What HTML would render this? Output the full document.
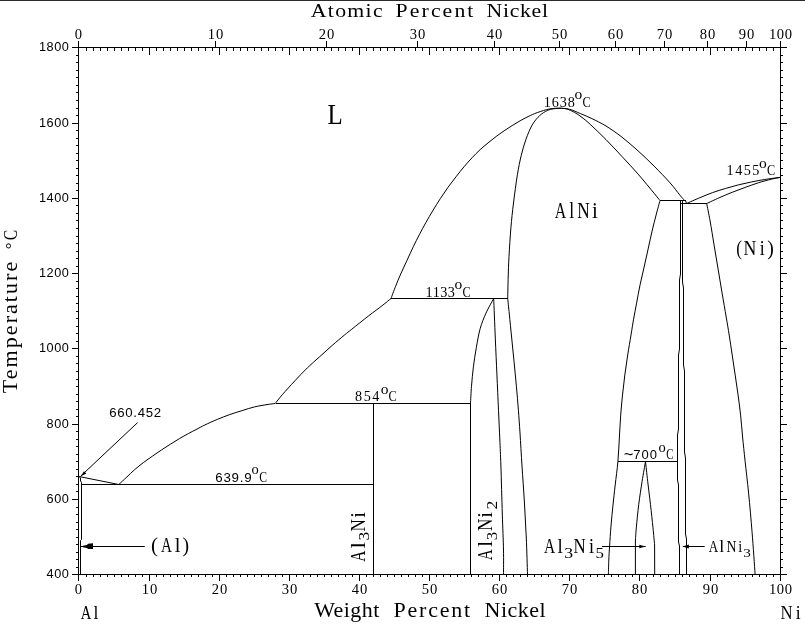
<!DOCTYPE html>
<html lang="en">
<head>
<meta charset="utf-8">
<title>Al-Ni Phase Diagram</title>
<style>
html,body{margin:0;padding:0;background:#fff;}
body{width:805px;height:624px;overflow:hidden;position:relative;}
#top{position:absolute;left:0;top:0;width:805px;height:1px;background:#2a2a2a;}
svg{position:absolute;left:0;top:0;display:block;}
.ax{fill:none;stroke:#000;stroke-width:1;shape-rendering:crispEdges;}
.cv{fill:none;stroke:#000;stroke-width:1;stroke-linejoin:round;}
.fill{fill:#000;stroke:none;}
text{fill:#000;}
.se{font-family:"Liberation Serif",serif;}
.sa{font-family:"Liberation Sans",sans-serif;}
</style>
</head>
<body>
<svg width="805" height="624" viewBox="0 0 805 624">
<path class="ax" d="M72 47.5H787M72 574.5H787M78.5 47V575M780.5 47V575M76 567.5H78M781 567.5H783M76 559.5H78M781 559.5H783M76 552.5H78M781 552.5H783M76 544.5H78M781 544.5H783M76 537.5H78M781 537.5H783M76 529.5H78M781 529.5H783M76 522.5H78M781 522.5H783M76 514.5H78M781 514.5H783M76 507.5H78M781 507.5H783M72 499.5H78M781 499.5H787M76 491.5H78M781 491.5H783M76 484.5H78M781 484.5H783M76 476.5H78M781 476.5H783M76 469.5H78M781 469.5H783M76 461.5H78M781 461.5H783M76 454.5H78M781 454.5H783M76 446.5H78M781 446.5H783M76 439.5H78M781 439.5H783M76 431.5H78M781 431.5H783M72 424.5H78M781 424.5H787M76 416.5H78M781 416.5H783M76 409.5H78M781 409.5H783M76 401.5H78M781 401.5H783M76 394.5H78M781 394.5H783M76 386.5H78M781 386.5H783M76 379.5H78M781 379.5H783M76 371.5H78M781 371.5H783M76 363.5H78M781 363.5H783M76 356.5H78M781 356.5H783M72 348.5H78M781 348.5H787M76 341.5H78M781 341.5H783M76 333.5H78M781 333.5H783M76 326.5H78M781 326.5H783M76 318.5H78M781 318.5H783M76 311.5H78M781 311.5H783M76 303.5H78M781 303.5H783M76 296.5H78M781 296.5H783M76 288.5H78M781 288.5H783M76 281.5H78M781 281.5H783M72 273.5H78M781 273.5H787M76 266.5H78M781 266.5H783M76 258.5H78M781 258.5H783M76 251.5H78M781 251.5H783M76 243.5H78M781 243.5H783M76 236.5H78M781 236.5H783M76 228.5H78M781 228.5H783M76 220.5H78M781 220.5H783M76 213.5H78M781 213.5H783M76 205.5H78M781 205.5H783M72 198.5H78M781 198.5H787M76 190.5H78M781 190.5H783M76 183.5H78M781 183.5H783M76 175.5H78M781 175.5H783M76 168.5H78M781 168.5H783M76 160.5H78M781 160.5H783M76 153.5H78M781 153.5H783M76 145.5H78M781 145.5H783M76 138.5H78M781 138.5H783M76 130.5H78M781 130.5H783M72 123.5H78M781 123.5H787M76 115.5H78M781 115.5H783M76 108.5H78M781 108.5H783M76 100.5H78M781 100.5H783M76 92.5H78M781 92.5H783M76 85.5H78M781 85.5H783M76 77.5H78M781 77.5H783M76 70.5H78M781 70.5H783M76 62.5H78M781 62.5H783M76 55.5H78M781 55.5H783M78.5 575V581M86.5 575V577M86.5 48V51M93.5 575V577M93.5 48V51M100.5 575V577M100.5 48V51M107.5 575V577M107.5 48V51M114.5 575V577M114.5 48V51M121.5 575V577M121.5 48V51M128.5 575V577M128.5 48V51M135.5 575V577M135.5 48V51M142.5 575V577M142.5 48V51M149.5 575V581M149.5 48V55M156.5 575V577M156.5 48V51M163.5 575V577M163.5 48V51M170.5 575V577M170.5 48V51M177.5 575V577M177.5 48V51M184.5 575V577M184.5 48V51M191.5 575V577M191.5 48V51M198.5 575V577M198.5 48V51M205.5 575V577M205.5 48V51M212.5 575V577M212.5 48V51M219.5 575V581M219.5 48V55M226.5 575V577M226.5 48V51M233.5 575V577M233.5 48V51M240.5 575V577M240.5 48V51M247.5 575V577M247.5 48V51M254.5 575V577M254.5 48V51M261.5 575V577M261.5 48V51M268.5 575V577M268.5 48V51M275.5 575V577M275.5 48V51M282.5 575V577M282.5 48V51M289.5 575V581M289.5 48V55M296.5 575V577M296.5 48V51M303.5 575V577M303.5 48V51M310.5 575V577M310.5 48V51M317.5 575V577M317.5 48V51M324.5 575V577M324.5 48V51M331.5 575V577M331.5 48V51M338.5 575V577M338.5 48V51M345.5 575V577M345.5 48V51M352.5 575V577M352.5 48V51M359.5 575V581M359.5 48V55M366.5 575V577M366.5 48V51M373.5 575V577M373.5 48V51M380.5 575V577M380.5 48V51M387.5 575V577M387.5 48V51M394.5 575V577M394.5 48V51M401.5 575V577M401.5 48V51M408.5 575V577M408.5 48V51M415.5 575V577M415.5 48V51M422.5 575V577M422.5 48V51M429.5 575V581M429.5 48V55M436.5 575V577M436.5 48V51M443.5 575V577M443.5 48V51M450.5 575V577M450.5 48V51M457.5 575V577M457.5 48V51M464.5 575V577M464.5 48V51M471.5 575V577M471.5 48V51M478.5 575V577M478.5 48V51M485.5 575V577M485.5 48V51M492.5 575V577M492.5 48V51M499.5 575V581M499.5 48V55M506.5 575V577M506.5 48V51M513.5 575V577M513.5 48V51M520.5 575V577M520.5 48V51M527.5 575V577M527.5 48V51M534.5 575V577M534.5 48V51M541.5 575V577M541.5 48V51M548.5 575V577M548.5 48V51M555.5 575V577M555.5 48V51M562.5 575V577M562.5 48V51M569.5 575V581M569.5 48V55M576.5 575V577M576.5 48V51M583.5 575V577M583.5 48V51M590.5 575V577M590.5 48V51M597.5 575V577M597.5 48V51M604.5 575V577M604.5 48V51M611.5 575V577M611.5 48V51M618.5 575V577M618.5 48V51M625.5 575V577M625.5 48V51M632.5 575V577M632.5 48V51M639.5 575V581M639.5 48V55M646.5 575V577M646.5 48V51M653.5 575V577M653.5 48V51M660.5 575V577M660.5 48V51M668.5 575V577M668.5 48V51M675.5 575V577M675.5 48V51M682.5 575V577M682.5 48V51M689.5 575V577M689.5 48V51M696.5 575V577M696.5 48V51M703.5 575V577M703.5 48V51M710.5 575V581M710.5 48V55M717.5 575V577M717.5 48V51M724.5 575V577M724.5 48V51M731.5 575V577M731.5 48V51M738.5 575V577M738.5 48V51M745.5 575V577M745.5 48V51M752.5 575V577M752.5 48V51M759.5 575V577M759.5 48V51M766.5 575V577M766.5 48V51M773.5 575V577M773.5 48V51M780.5 575V581M78.5 41V47M215.5 41V47M326.5 41V47M417.5 41V47M494.5 41V47M559.5 41V47M615.5 41V47M664.5 41V47M707.5 41V47M746.5 41V47M780.5 41V47"/>
<path class="ax" d="M81.5 484.5H373.5M275.5 403.5H470.5M391 298.5H508M660 200.5H685.5M681 203.5H706.7M617.5 461.5H677.5M373.5 403.5V574M470.5 403.5V574"/>
<path class="cv" d="M79 476.5 L80.5 478 L80.5 481 L81.5 482.5 L81.5 539.5 L80.5 540.5 L80.5 574 M79 476.5 L118.8 484.5 M118.8 484.5 C120.13 483.25 124.17 479.47 126.8 477 C129.43 474.53 131.82 472.12 134.6 469.7 C137.38 467.28 140.52 464.77 143.5 462.5 C146.48 460.23 149.52 458.18 152.5 456.1 C155.48 454.02 158.42 451.98 161.4 450 C164.38 448.02 167.42 446.08 170.4 444.2 C173.38 442.32 176.32 440.47 179.3 438.7 C182.28 436.93 185.52 435.12 188.3 433.6 C191.08 432.08 193.25 431.03 196 429.6 C198.75 428.17 201.25 426.7 204.8 425 C208.35 423.3 213.15 421.13 217.3 419.4 C221.45 417.67 225.57 416.07 229.7 414.6 C233.83 413.13 237.97 411.88 242.1 410.6 C246.23 409.32 250.35 407.9 254.5 406.9 C258.65 405.9 263.55 405.17 267 404.6 C270.45 404.03 273.83 403.68 275.2 403.5 M275.2 403.5 C276.4 402.02 279.13 398.37 282.4 394.6 C285.67 390.83 290.65 385.35 294.8 380.9 C298.95 376.45 303.15 371.93 307.3 367.9 C311.45 363.87 315.57 360.43 319.7 356.7 C323.83 352.97 327.97 349.12 332.1 345.5 C336.23 341.88 341.22 337.72 344.5 335 C347.78 332.28 347.77 332.4 351.8 329.2 C355.83 326 363.65 319.72 368.7 315.8 C373.75 311.88 378.38 308.58 382.1 305.7 C385.82 302.82 389.52 299.7 391 298.5 M391 298.5 C391.77 296.47 393.97 290.42 395.6 286.3 C397.23 282.18 398.88 278.15 400.8 273.8 C402.72 269.45 405.02 264.72 407.1 260.2 C409.18 255.68 411.22 251.03 413.3 246.7 C415.38 242.37 417.52 238.2 419.6 234.2 C421.68 230.2 423.55 226.7 425.8 222.7 C428.05 218.7 430.67 214.23 433.1 210.2 C435.53 206.17 437.92 202.32 440.4 198.5 C442.88 194.68 445.4 190.92 448 187.3 C450.6 183.68 453.33 180.22 456 176.8 C458.67 173.38 461.32 169.98 464 166.8 C466.68 163.62 469.42 160.55 472.1 157.7 C474.78 154.85 477.43 152.17 480.1 149.7 C482.77 147.23 485.43 145.1 488.1 142.9 C490.77 140.7 493.43 138.52 496.1 136.5 C498.77 134.48 501.43 132.62 504.1 130.8 C506.77 128.98 509.43 127.27 512.1 125.6 C514.77 123.93 517.43 122.3 520.1 120.8 C522.77 119.3 525.23 117.97 528.1 116.6 C530.97 115.23 533.7 113.88 537.3 112.6 C540.9 111.32 545.92 109.63 549.7 108.9 C553.48 108.17 558.28 108.32 560 108.2 M470.5 403.5 C470.67 400.62 471.02 392.3 471.5 386.2 C471.98 380.1 472.6 373.32 473.4 366.9 C474.2 360.48 475.17 354.1 476.3 347.7 C477.43 341.3 478.58 334.27 480.2 328.5 C481.82 322.73 483.75 318.1 486 313.1 C488.25 308.1 492.42 300.93 493.7 298.5 M493.7 298.5 C493.97 305.1 494.77 325.5 495.3 338.1 C495.83 350.7 496.37 362.08 496.9 374.1 C497.43 386.12 498.02 399.38 498.5 410.2 C498.98 421.02 499.4 429.7 499.8 439 C500.2 448.3 500.48 453.5 500.9 466 C501.32 478.5 501.87 500 502.3 514 C502.73 528 503.3 540 503.5 550 C503.7 560 503.5 570 503.5 574 M527.5 574 C527.3 568 526.82 550 526.3 538 C525.78 526 525.12 514 524.4 502 C523.68 490 522.73 477.5 522 466 C521.27 454.5 520.6 442.3 520 433 C519.4 423.7 519 418 518.4 410.2 C517.8 402.4 517.12 394.22 516.4 386.2 C515.68 378.18 514.88 370.12 514.1 362.1 C513.32 354.08 512.5 346.12 511.7 338.1 C510.9 330.08 509.97 320.6 509.3 314 C508.63 307.4 507.97 301.08 507.7 298.5 M507.7 298.5 C507.78 294.92 507.98 284 508.2 277 C508.42 270 508.55 264.7 509 256.5 C509.45 248.3 510.15 236.72 510.9 227.8 C511.65 218.88 512.42 211.85 513.5 203 C514.58 194.15 516.12 182.6 517.4 174.7 C518.68 166.8 519.77 161.52 521.2 155.6 C522.63 149.68 524.15 144.33 526 139.2 C527.85 134.07 530 128.75 532.3 124.8 C534.6 120.85 537.32 117.87 539.8 115.5 C542.28 113.13 544.93 111.72 547.2 110.6 C549.47 109.48 551.27 109.2 553.4 108.8 C555.53 108.4 558.9 108.3 560 108.2 M560 108.2 C561.6 108.38 566.15 108.38 569.6 109.3 C573.05 110.22 576.98 112.15 580.7 113.7 C584.42 115.25 587.68 116.55 591.9 118.6 C596.12 120.65 600.98 122.9 606 126 C611.02 129.1 616.65 133.05 622 137.2 C627.35 141.35 632.75 146.08 638.1 150.9 C643.45 155.72 648.77 160.77 654.1 166.1 C659.43 171.43 665.83 178.1 670.1 182.9 C674.37 187.7 677.28 191.97 679.7 194.9 C682.12 197.83 683.78 199.57 684.6 200.5 M560 108.2 C561.18 108.33 564.68 108.3 567.1 109 C569.52 109.7 572.02 111 574.5 112.4 C576.98 113.8 579.3 115.33 582 117.4 C584.7 119.47 586.7 121.1 590.7 124.8 C594.7 128.5 600.78 134.32 606 139.6 C611.22 144.88 616.65 150.75 622 156.5 C627.35 162.25 632.75 167.97 638.1 174.1 C643.45 180.23 650.45 188.9 654.1 193.3 C657.75 197.7 659.02 199.3 660 200.5 M660 200.5 C659.35 202.92 657.42 209.92 656.1 215 C654.78 220.08 653.43 225.32 652.1 231 C650.77 236.68 649.43 243.08 648.1 249.1 C646.77 255.12 645.45 261.1 644.1 267.1 C642.75 273.1 641.25 279.1 640 285.1 C638.75 291.1 637.67 297.43 636.6 303.1 C635.53 308.77 634.53 313.78 633.6 319.1 C632.67 324.42 631.98 329.02 631 335 C630.02 340.98 628.73 348.32 627.7 355 C626.67 361.68 625.67 368.42 624.8 375.1 C623.93 381.78 623.18 388.43 622.5 395.1 C621.82 401.77 621.22 408.12 620.7 415.1 C620.18 422.08 619.87 429.27 619.4 437 C618.93 444.73 618.6 453.5 617.9 461.5 C617.2 469.5 616.02 477.75 615.2 485 C614.38 492.25 613.7 498.17 613 505 C612.3 511.83 611.57 519.17 611 526 C610.43 532.83 609.97 540.33 609.6 546 C609.23 551.67 609 555.33 608.8 560 C608.6 564.67 608.47 571.67 608.4 574 M685.5 200.5 L686.5 203.5 M686.5 203.5 C688.68 202.55 695.25 199.62 699.6 197.8 C703.95 195.98 708.25 194.17 712.6 192.6 C716.95 191.03 721.35 189.7 725.7 188.4 C730.05 187.1 734.37 185.88 738.7 184.8 C743.03 183.72 747.35 182.78 751.7 181.9 C756.05 181.02 760 180.27 764.8 179.5 C769.6 178.73 777.88 177.67 780.5 177.3 M706.8 203.5 C708.85 202.55 714.87 199.67 719.1 197.8 C723.33 195.93 727.85 194.03 732.2 192.3 C736.55 190.57 740.85 188.98 745.2 187.4 C749.55 185.82 753.95 184.17 758.3 182.8 C762.65 181.43 767.6 180.12 771.3 179.2 C775 178.28 778.97 177.62 780.5 177.3 M706.7 203.5 C707.27 206.42 708.87 214.07 710.1 221 C711.33 227.93 712.77 237.08 714.1 245.1 C715.43 253.12 716.77 261.1 718.1 269.1 C719.43 277.1 720.75 285.12 722.1 293.1 C723.45 301.08 725.02 310.02 726.2 317 C727.38 323.98 728.2 328.67 729.2 335 C730.2 341.33 731.2 348.32 732.2 355 C733.2 361.68 734.22 368.42 735.2 375.1 C736.18 381.78 737.2 388.43 738.1 395.1 C739 401.77 739.85 408.12 740.6 415.1 C741.35 422.08 741.85 429.32 742.6 437 C743.35 444.68 744.1 451.85 745.1 461.2 C746.1 470.55 747.43 481.22 748.6 493.1 C749.77 504.98 751.02 519.02 752.1 532.5 C753.18 545.98 754.6 567.08 755.1 574 M680.5 200.5 L680.5 274 L679.5 280 L679.5 349 L678.5 355 L678.5 429 L677.5 435 L677.5 480 L678.5 485 L678.5 542 L679.5 546 L679.5 574 M682.5 200.5 L682.5 282 L683.5 288 L683.5 365 L684.5 371 L684.5 452 L685.5 458 L685.5 534 L686.5 539 L686.5 574 M645.5 461.5 C644.93 464.82 643.23 474.2 642.1 481.4 C640.97 488.6 639.67 496.95 638.7 504.7 C637.73 512.45 636.85 521.85 636.3 527.9 C635.75 533.95 635.55 538.82 635.4 541 M635.4 541 L635.4 574 M645.5 461.5 C645.87 464.82 646.87 474.2 647.7 481.4 C648.53 488.6 649.62 496.95 650.5 504.7 C651.38 512.45 652.32 521.18 653 527.9 C653.68 534.62 654.33 542.15 654.6 545 M654.6 545 L654.7 574"/>
<path class="cv" d="M137.6 422.6L80.5 476.3 M144.8 546.5H81 M602 546.5H645.7 M704.7 546.5H683"/>
<path class="fill" d="M80.6 476.6L86.3 473.6L84 471.2z"/>
<path class="fill" d="M80.5 546.5L84 545.6L87 544.9L88 543.8L93 543.3V549H88L87 548.1L84 547.6z"/>
<path class="fill" d="M645.7 546.5L639.3 544.8V548.2z"/>
<path class="fill" d="M682.4 546.5L688.9 544.6V548.4z"/>
<text class="se" font-size="19.8" transform="translate(0 16.8) scale(1.1 1)"><tspan x="282.55" textLength="65.27" lengthAdjust="spacing">Atomic</tspan> <tspan x="359.64" textLength="70.73" lengthAdjust="spacing">Percent</tspan> <tspan x="442.27" textLength="55.91" lengthAdjust="spacing">Nickel</tspan></text>
<text class="se" font-size="20" transform="translate(0 616.7) scale(1.1 1)"><tspan x="285.64" textLength="59.18" lengthAdjust="spacing">Weight</tspan> <tspan x="357.64" textLength="69.82" lengthAdjust="spacing">Percent</tspan> <tspan x="440.55" textLength="55.45" lengthAdjust="spacing">Nickel</tspan></text>
<text class="se" font-size="20" transform="translate(17.3 393.2) rotate(-90) scale(1.1 1)" textLength="119.5" lengthAdjust="spacing">Temperature</text>
<text class="se" font-size="17" transform="translate(17.3 249.2) rotate(-90)">°</text>
<text class="se" font-size="19.5" transform="translate(17.3 240.2) rotate(-90) scale(0.8 1)">C</text>
<text class="sa" x="68.9" y="578.3" font-size="12.7" text-anchor="end" textLength="22.4" lengthAdjust="spacing">400</text>
<text class="sa" x="68.9" y="503.3" font-size="12.7" text-anchor="end" textLength="22.4" lengthAdjust="spacing">600</text>
<text class="sa" x="68.9" y="428.3" font-size="12.7" text-anchor="end" textLength="22.4" lengthAdjust="spacing">800</text>
<text class="sa" x="68.9" y="352.3" font-size="12.7" text-anchor="end" textLength="30" lengthAdjust="spacing">1000</text>
<text class="sa" x="68.9" y="277.3" font-size="12.7" text-anchor="end" textLength="30" lengthAdjust="spacing">1200</text>
<text class="sa" x="68.9" y="202.3" font-size="12.7" text-anchor="end" textLength="30" lengthAdjust="spacing">1400</text>
<text class="sa" x="68.9" y="127.3" font-size="12.7" text-anchor="end" textLength="30" lengthAdjust="spacing">1600</text>
<text class="sa" x="68.9" y="51.3" font-size="12.7" text-anchor="end" textLength="30" lengthAdjust="spacing">1800</text>
<text class="se" x="78.5" y="594" font-size="14.6" text-anchor="middle">0</text>
<text class="se" x="149.5" y="594" font-size="14.6" text-anchor="middle" textLength="15.4" lengthAdjust="spacing">10</text>
<text class="se" x="219.5" y="594" font-size="14.6" text-anchor="middle" textLength="15.4" lengthAdjust="spacing">20</text>
<text class="se" x="289.5" y="594" font-size="14.6" text-anchor="middle" textLength="15.4" lengthAdjust="spacing">30</text>
<text class="se" x="359.5" y="594" font-size="14.6" text-anchor="middle" textLength="15.4" lengthAdjust="spacing">40</text>
<text class="se" x="429.5" y="594" font-size="14.6" text-anchor="middle" textLength="15.4" lengthAdjust="spacing">50</text>
<text class="se" x="499.5" y="594" font-size="14.6" text-anchor="middle" textLength="15.4" lengthAdjust="spacing">60</text>
<text class="se" x="569.5" y="594" font-size="14.6" text-anchor="middle" textLength="15.4" lengthAdjust="spacing">70</text>
<text class="se" x="639.5" y="594" font-size="14.6" text-anchor="middle" textLength="15.4" lengthAdjust="spacing">80</text>
<text class="se" x="710.5" y="594" font-size="14.6" text-anchor="middle" textLength="15.4" lengthAdjust="spacing">90</text>
<text class="se" x="780.5" y="594" font-size="14.6" text-anchor="middle" textLength="23.2" lengthAdjust="spacing">100</text>
<text class="se" x="78.5" y="39" font-size="14.6" text-anchor="middle">0</text>
<text class="se" x="215.5" y="39" font-size="14.6" text-anchor="middle" textLength="15.4" lengthAdjust="spacing">10</text>
<text class="se" x="326.5" y="39" font-size="14.6" text-anchor="middle" textLength="15.4" lengthAdjust="spacing">20</text>
<text class="se" x="417.5" y="39" font-size="14.6" text-anchor="middle" textLength="15.4" lengthAdjust="spacing">30</text>
<text class="se" x="494.5" y="39" font-size="14.6" text-anchor="middle" textLength="15.4" lengthAdjust="spacing">40</text>
<text class="se" x="559.5" y="39" font-size="14.6" text-anchor="middle" textLength="15.4" lengthAdjust="spacing">50</text>
<text class="se" x="615.5" y="39" font-size="14.6" text-anchor="middle" textLength="15.4" lengthAdjust="spacing">60</text>
<text class="se" x="664.5" y="39" font-size="14.6" text-anchor="middle" textLength="15.4" lengthAdjust="spacing">70</text>
<text class="se" x="707.5" y="39" font-size="14.6" text-anchor="middle" textLength="15.4" lengthAdjust="spacing">80</text>
<text class="se" x="746.5" y="39" font-size="14.6" text-anchor="middle" textLength="15.4" lengthAdjust="spacing">90</text>
<text class="se" x="780.5" y="39" font-size="14.6" text-anchor="middle" textLength="23.2" lengthAdjust="spacing">100</text>
<text class="se" font-size="19.8"><tspan x="80.65" y="618.9" textLength="10.55" lengthAdjust="spacingAndGlyphs">A</tspan><tspan x="93.55" y="618.9" textLength="4.91" lengthAdjust="spacingAndGlyphs">l</tspan></text>
<text class="se" font-size="19.8"><tspan x="780.42" y="618.9" textLength="12.07" lengthAdjust="spacingAndGlyphs">N</tspan><tspan x="795.73" y="618.9" textLength="4.91" lengthAdjust="spacingAndGlyphs">i</tspan></text>
<text class="se" font-size="29.5"><tspan x="327.48" y="124.2" textLength="15.22" lengthAdjust="spacingAndGlyphs">L</tspan></text>
<text class="se" font-size="22.3"><tspan x="554.74" y="217.7" textLength="11.47" lengthAdjust="spacingAndGlyphs">A</tspan><tspan x="569.25" y="217.7" textLength="4.91" lengthAdjust="spacingAndGlyphs">l</tspan><tspan x="577.2" y="217.7" textLength="12.5" lengthAdjust="spacingAndGlyphs">N</tspan><tspan x="591.96" y="217.7" textLength="5.84" lengthAdjust="spacingAndGlyphs">i</tspan></text>
<text class="se" font-size="21.2"><tspan x="736.15" y="254.8" textLength="5.7" lengthAdjust="spacingAndGlyphs">(</tspan><tspan x="743.58" y="254.8" textLength="12.82" lengthAdjust="spacingAndGlyphs">N</tspan><tspan x="759.73" y="254.8" textLength="4.91" lengthAdjust="spacingAndGlyphs">i</tspan><tspan x="767.36" y="254.8" textLength="6.61" lengthAdjust="spacingAndGlyphs">)</tspan></text>
<text class="se" font-size="21.4"><tspan x="150.88" y="552" textLength="7" lengthAdjust="spacingAndGlyphs">(</tspan><tspan x="160.95" y="552" textLength="10.96" lengthAdjust="spacingAndGlyphs">A</tspan><tspan x="174.69" y="552" textLength="5.72" lengthAdjust="spacingAndGlyphs">l</tspan><tspan x="182.46" y="552" textLength="6.61" lengthAdjust="spacingAndGlyphs">)</tspan></text>
<text class="se" font-size="21.5"><tspan x="543.95" y="552.6" textLength="11.16" lengthAdjust="spacingAndGlyphs">A</tspan><tspan x="557.62" y="552.6" textLength="5.26" lengthAdjust="spacingAndGlyphs">l</tspan><tspan x="564.15" y="557.9" textLength="8.84" lengthAdjust="spacingAndGlyphs" font-size="14.8">3</tspan><tspan x="573.61" y="552.6" textLength="12.18" lengthAdjust="spacingAndGlyphs">N</tspan><tspan x="589.12" y="552.6" textLength="5.02" lengthAdjust="spacingAndGlyphs">i</tspan><tspan x="595.42" y="557.9" textLength="8.44" lengthAdjust="spacingAndGlyphs" font-size="14.8">5</tspan></text>
<text class="se" font-size="17"><tspan x="708.77" y="552.1" textLength="9.42" lengthAdjust="spacingAndGlyphs">A</tspan><tspan x="719.34" y="552.1" textLength="5.02" lengthAdjust="spacingAndGlyphs">l</tspan><tspan x="726.4" y="552.1" textLength="10.02" lengthAdjust="spacingAndGlyphs">N</tspan><tspan x="738.2" y="552.1" textLength="3.97" lengthAdjust="spacingAndGlyphs">i</tspan><tspan x="743.27" y="556.7" textLength="7.63" lengthAdjust="spacingAndGlyphs" font-size="11.8">3</tspan></text>
<text class="se" font-size="20.8" transform="translate(364.7 561.5) rotate(-90)"><tspan x="-0.15" y="0" textLength="11.16" lengthAdjust="spacingAndGlyphs">A</tspan><tspan x="13.14" y="0" textLength="6.42" lengthAdjust="spacingAndGlyphs">l</tspan><tspan x="20.97" y="4.4" textLength="8.6" lengthAdjust="spacingAndGlyphs" font-size="13.6">3</tspan><tspan x="30.01" y="0" textLength="12.28" lengthAdjust="spacingAndGlyphs">N</tspan><tspan x="43.67" y="0" textLength="5.72" lengthAdjust="spacingAndGlyphs">i</tspan></text>
<text class="se" font-size="21" transform="translate(492.1 560.2) rotate(-90)"><tspan x="-0.15" y="0" textLength="10.96" lengthAdjust="spacingAndGlyphs">A</tspan><tspan x="13.15" y="0" textLength="6.31" lengthAdjust="spacingAndGlyphs">l</tspan><tspan x="19.89" y="5" textLength="8.47" lengthAdjust="spacingAndGlyphs" font-size="13.8">3</tspan><tspan x="29.1" y="0" textLength="12.39" lengthAdjust="spacingAndGlyphs">N</tspan><tspan x="42.57" y="0" textLength="5.72" lengthAdjust="spacingAndGlyphs">i</tspan><tspan x="50.62" y="5" textLength="8.85" lengthAdjust="spacingAndGlyphs" font-size="13.8">2</tspan></text>
<text class="se" font-size="14.2" x="543.8" y="107" textLength="31" lengthAdjust="spacing">1638</text>
<text class="se" font-size="15.5" x="574.6" y="99.4">o</text>
<text class="se" font-size="15.3" transform="translate(582.4 107) scale(0.8 1)">C</text>
<text class="se" font-size="14.2" x="726.6" y="175.4" textLength="32.7" lengthAdjust="spacing">1455</text>
<text class="se" font-size="15.5" x="759.1" y="167.8">o</text>
<text class="se" font-size="15.3" transform="translate(766.9 175.4) scale(0.8 1)">C</text>
<text class="se" font-size="14.2" x="425.6" y="296.6" textLength="29.2" lengthAdjust="spacing">1133</text>
<text class="se" font-size="15.5" x="454.6" y="289">o</text>
<text class="se" font-size="15.3" transform="translate(462.4 296.6) scale(0.8 1)">C</text>
<text class="se" font-size="14.2" x="355.1" y="401.2" textLength="24.2" lengthAdjust="spacing">854</text>
<text class="se" font-size="15.5" x="380.8" y="393.6">o</text>
<text class="se" font-size="15.3" transform="translate(388.6 401.2) scale(0.8 1)">C</text>
<text class="sa" font-size="16.5" x="623.7" y="459.6">~</text>
<text class="sa" font-size="13" x="633.2" y="458.8" textLength="23.8" lengthAdjust="spacing">700</text>
<text class="se" font-size="14.5" x="658.4" y="451.6">o</text>
<text class="se" font-size="13.6" transform="translate(666.2 458.8) scale(0.8 1)">C</text>
<text class="sa" font-size="13.3" x="215.3" y="481.5" textLength="36.3" lengthAdjust="spacing">639.9</text>
<text class="se" font-size="14.5" x="251.4" y="474.2">o</text>
<text class="se" font-size="14.6" transform="translate(259.2 481.5) scale(0.8 1)">C</text>
<text class="sa" x="109.2" y="416.5" font-size="13.2" textLength="52" lengthAdjust="spacing">660.452</text>
</svg>
<div id="top"></div>
</body>
</html>
